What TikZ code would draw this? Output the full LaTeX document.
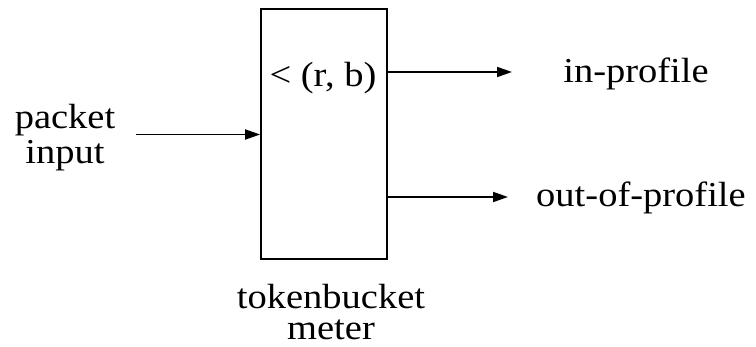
\documentclass[tikz,border=0pt]{standalone}
\usepackage{fontspec}
\setmainfont{Liberation Serif}[FakeStretch=1.1]
\usetikzlibrary{arrows.meta}
\begin{document}
\begin{tikzpicture}[x=1pt,y=-1pt,
  lbl/.style={font=\fontsize{35}{35}\selectfont, inner sep=0pt, align=center},
  conn/.style={line width=1.8pt, -{Triangle[length=15pt,width=10pt]}},
  boxst/.style={draw, line width=1.8pt, minimum width=126pt, minimum height=250pt, inner sep=0pt}]
\useasboundingbox (0,0) rectangle (756,347);
\node[boxst] (meter) at (324,134) {};
\node[lbl, anchor=base] (rb) at (323,87) {< (r, b)};
\node[lbl, anchor=north] (pk) at (65,104) {packet\\input};
\node[lbl, anchor=base] (inprof) at (636,83) {in-profile};
\node[lbl, anchor=base] (outprof) at (641,207) {out-of-profile};
\node[lbl, anchor=north, text depth=0pt, font=\fontsize{35}{31}\selectfont] (tb) at (331,284) {tokenbucket\\meter};
\coordinate (instart) at (136,134.5);
\coordinate (inend) at (512,72);
\coordinate (outend) at (508,197);
\draw[conn] (instart) -- (instart -| meter.west);
\draw[conn] (inend -| meter.east) -- (inend);
\draw[conn] (outend -| meter.east) -- (outend);
\end{tikzpicture}
\end{document}
